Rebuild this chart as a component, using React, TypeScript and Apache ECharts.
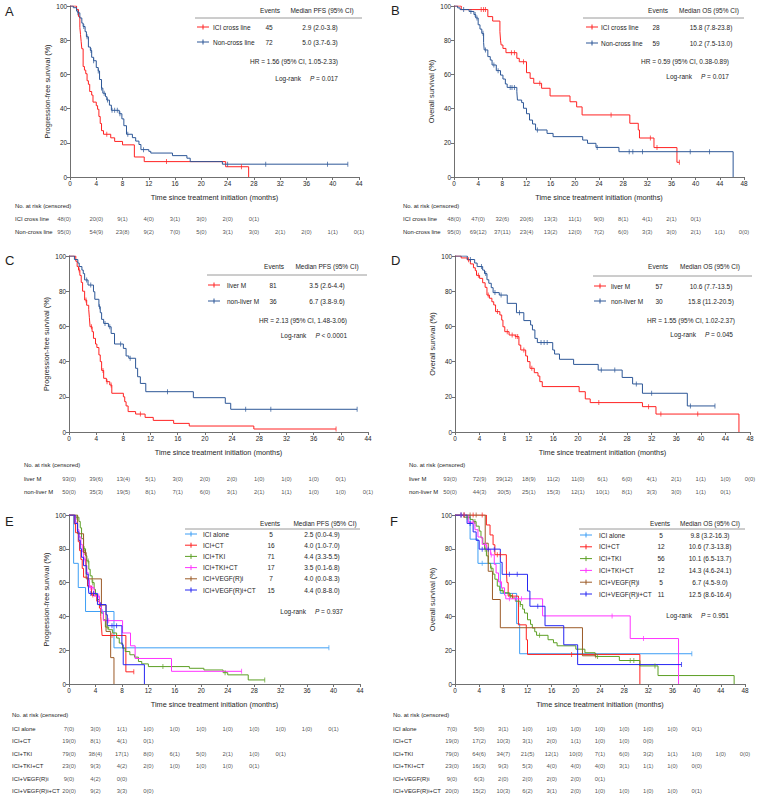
import React, { useEffect, useRef } from 'react';
import * as echarts from 'echarts';

const FONT = '"Liberation Sans", Arial, Helvetica, sans-serif';
const TXT = '#1e1e1e';
const AXIS = '#707070';

const RED = '#ff2222';
const BLUE = '#2d5797';
const GROUP_COLORS = ['#3d9ef5', '#ff2020', '#5c9f24', '#ff33ff', '#9b5a27', '#2626f2'];

const X_TITLE = 'Time since treatment initiation (months)';
const PFS_TITLE = 'Progression-free survival (%)';
const OS_TITLE = 'Overall survival (%)';

// ---------- Panel A ----------
const A_NAMES = ['ICI cross line', 'Non-cross line'];
const A_EVENTS = ['45', '72'];
const A_MEDIANS = ['2.9 (2.0-3.8)', '5.0 (3.7-6.3)'];
const A_HR = 'HR = 1.56 (95% CI, 1.05-2.33)';
const A_P = ' = 0.017';
const A_CROSS = [[1.0, 97.9], [1.3, 93.8], [1.5, 87.5], [1.6, 83.3], [1.7, 79.2], [1.8, 75.0], [2.0, 64.6], [2.2, 62.5], [2.4, 60.4], [2.6, 56.3], [2.8, 54.2], [3.0, 50.0], [3.3, 47.9], [3.5, 43.8], [4.0, 41.7], [4.2, 39.6], [4.4, 35.4], [4.6, 31.3], [4.8, 27.1], [5.1, 25.0], [6.2, 22.9], [6.8, 20.8], [8.0, 18.8], [9.8, 11.7], [11.3, 9.0], [23.7, 6.0], [27.2, 0]];
const A_CROSS_CENS = [5.6, 14.7, 26.1];
const A_NON = [[0.5, 99], [1.0, 97], [1.2, 96], [1.5, 93], [1.8, 90], [2.0, 88], [2.3, 85], [2.5, 82], [2.8, 76], [3.1, 74], [3.3, 70], [3.6, 68], [4.0, 64], [4.3, 62], [4.5, 57], [4.8, 52], [5.0, 49], [5.4, 47], [5.6, 45], [6.0, 42], [6.3, 39], [7.5, 37], [7.9, 34], [8.2, 30], [8.6, 25], [9.5, 23], [10.0, 21], [10.5, 19], [10.8, 16], [12.0, 15], [12.3, 14], [15.6, 12.5], [17.8, 11], [18.3, 9], [23.2, 7.5], [42.3, 7.5]];
const A_NON_CENS = [1.2, 2.1, 2.6, 3.2, 3.6, 4.3, 4.8, 5.2, 5.7, 6.4, 6.8, 7.2, 7.6, 8.8, 11.2, 24.0, 29.8, 39.2, 42.3];
const A_RISK_CROSS = ['48(0)', '20(0)', '9(1)', '4(0)', '3(1)', '3(0)', '2(0)', '0(1)'];
const A_RISK_NON = ['95(0)', '54(9)', '23(8)', '9(2)', '7(0)', '5(0)', '3(1)', '3(0)', '2(1)', '2(0)', '1(1)', '0(1)'];

// ---------- Panel B ----------
const B_NAMES = ['ICI cross line', 'Non-cross line'];
const B_EVENTS = ['28', '59'];
const B_MEDIANS = ['15.8 (7.8-23.8)', '10.2 (7.5-13.0)'];
const B_HR = 'HR = 0.59 (95% CI, 0.38-0.89)';
const B_P = ' = 0.017';
const B_CROSS = [[1.2, 97.9], [5.6, 93.8], [6.4, 91.2], [7.6, 85], [7.7, 80], [7.8, 77.2], [8.1, 75.2], [8.6, 72.7], [10.4, 69.4], [10.8, 67.4], [12.0, 61.0], [12.6, 57.7], [13.2, 54.8], [14.5, 51.9], [15.9, 47.4], [19.2, 44.0], [20.3, 41.0], [21.2, 36.3], [29.1, 31.4], [30.5, 27.5], [30.7, 22.8], [33.1, 17.2], [36.9, 8.6], [37.3, 8.6]];
const B_CROSS_CENS = [4.5, 4.9, 5.2, 9.5, 10.0, 11.5, 14.2, 26.0, 32.5, 33.6, 37.3];
const B_NON = [[0.6, 98.9], [1.0, 97.9], [2.5, 96.8], [3.3, 95], [3.6, 93], [4.0, 89], [4.3, 86.5], [4.6, 84], [4.9, 78.6], [5.0, 74.3], [5.6, 70.4], [6.0, 68.4], [6.3, 65.5], [7.0, 62.2], [7.7, 59.6], [8.1, 57.3], [8.5, 54.4], [8.8, 52.4], [10.4, 49.9], [10.5, 45], [11.2, 43.5], [11.5, 40.2], [12.0, 37], [12.5, 33.3], [13.0, 31], [13.5, 27.5], [15.4, 25.5], [16.4, 23.6], [21.3, 21.6], [22.1, 19.7], [23.5, 17.3], [27.3, 14.8], [46.2, 0]];
const B_NON_CENS = [1.6, 2.8, 3.5, 3.8, 4.8, 5.2, 6.6, 7.3, 9.3, 9.6, 10.0, 13.8, 23.7, 29.0, 29.6, 31.2, 39.1, 42.3];
const B_RISK_CROSS = ['48(0)', '47(0)', '32(6)', '20(6)', '13(3)', '11(1)', '9(0)', '8(1)', '4(1)', '2(1)', '0(1)'];
const B_RISK_NON = ['95(0)', '69(12)', '37(11)', '23(4)', '13(2)', '12(0)', '7(2)', '6(0)', '3(3)', '3(0)', '2(1)', '1(1)', '0(0)'];

// ---------- Panel C ----------
const C_NAMES = ['liver M', 'non-liver M'];
const C_EVENTS = ['81', '36'];
const C_MEDIANS = ['3.5 (2.6-4.4)', '6.7 (3.8-9.6)'];
const C_HR = 'HR = 2.13 (95% CI, 1.48-3.06)';
const C_P = ' < 0.0001';
const C_LIVER = [[1.0, 97], [1.2, 94], [1.4, 92], [1.6, 89], [1.8, 85], [2.0, 80], [2.3, 75], [2.6, 72], [2.9, 69.7], [3.0, 65], [3.1, 59.8], [3.4, 57], [3.6, 53.2], [3.9, 50], [4.1, 48], [4.4, 43.8], [4.6, 40], [4.8, 35], [5.1, 30.5], [5.5, 28.6], [6.0, 26.7], [6.3, 22], [8.0, 20], [8.2, 17.2], [8.4, 14.8], [8.7, 11.6], [9.8, 10.2], [11.2, 8.3], [12.4, 6.6], [15.4, 4.9], [17.7, 3.4], [27.2, 1.7], [39.3, 1.7]];
const C_LIVER_CENS = [1.5, 2.5, 3.3, 5.0, 5.6, 6.2, 10.5, 39.3];
const C_NONLIVER = [[0.8, 98], [1.3, 96], [1.5, 94], [1.9, 92], [2.1, 90], [2.3, 86.4], [2.8, 83.5], [3.6, 79.7], [3.8, 75.4], [4.4, 71.2], [4.6, 67.8], [4.8, 64], [5.1, 61.7], [5.8, 59.8], [6.2, 56], [6.7, 50], [8.0, 47.5], [8.4, 43.2], [8.8, 41.9], [9.8, 36.2], [10.1, 31.4], [10.5, 27.6], [11.3, 22.9], [18.3, 19.5], [23.0, 16.3], [23.8, 12.9], [42.4, 12.9]];
const C_NONLIVER_CENS = [2.6, 3.2, 4.5, 5.3, 6.0, 7.6, 9.0, 14.5, 26.0, 29.7, 42.4];
const C_RISK_LIVER = ['93(0)', '39(6)', '13(4)', '5(1)', '3(0)', '2(0)', '2(0)', '1(0)', '1(0)', '1(0)', '0(1)'];
const C_RISK_NONLIVER = ['50(0)', '35(3)', '19(5)', '8(1)', '7(1)', '6(0)', '3(1)', '2(1)', '1(1)', '1(0)', '1(0)', '0(1)'];

// ---------- Panel D ----------
const D_NAMES = ['liver M', 'non-liver M'];
const D_EVENTS = ['57', '30'];
const D_MEDIANS = ['10.6 (7.7-13.5)', '15.8 (11.2-20.5)'];
const D_HR = 'HR = 1.55 (95% CI, 1.02-2.37)';
const D_P = ' = 0.045';
const D_LIVER = [[1.0, 98.9], [2.0, 97.8], [2.5, 95.5], [3.0, 93.3], [3.3, 91.7], [3.5, 89], [4.0, 87.3], [4.5, 84.8], [4.9, 82.2], [5.2, 77.8], [5.6, 76], [6.0, 74], [6.3, 72.2], [6.6, 68.4], [7.3, 66.5], [7.6, 63.6], [7.8, 59.8], [8.1, 57], [8.8, 55.1], [9.8, 54.2], [10.4, 49.4], [10.7, 46.6], [11.5, 43.2], [11.8, 40], [12.2, 36.2], [12.9, 33.7], [13.5, 31.8], [13.8, 28.6], [14.2, 25.8], [20.2, 22.9], [21.2, 18.8], [22.0, 16.7], [30.5, 14.4], [32.7, 10.2], [46.2, 0]];
const D_LIVER_CENS = [2.2, 3.8, 5.4, 6.9, 8.5, 9.3, 9.9, 10.2, 11.2, 12.5, 23.4, 31.5, 33.5, 39.5];
const D_NONLIVER = [[2.0, 98], [3.2, 96], [3.6, 94], [4.5, 92], [4.8, 90], [5.2, 86.5], [5.5, 84.5], [5.9, 82], [6.2, 79.2], [7.2, 77.8], [8.5, 73.1], [10.0, 67.8], [11.2, 63.3], [12.3, 60.8], [12.6, 58], [13.0, 53.2], [13.4, 50.8], [15.9, 46.6], [16.2, 44.3], [17.0, 41.3], [19.3, 38.4], [23.3, 35.2], [27.2, 31], [28.9, 27.3], [30.5, 22], [37.8, 14.8], [42.3, 14.8]];
const D_NONLIVER_CENS = [2.5, 4.3, 5.0, 6.5, 7.5, 10.5, 14.0, 14.5, 15.0, 23.8, 26.0, 29.5, 32.0, 38.3, 42.3];
const D_RISK_LIVER = ['93(0)', '72(9)', '39(12)', '18(9)', '11(2)', '11(0)', '6(1)', '6(0)', '4(1)', '2(1)', '1(1)', '1(0)', '0(0)'];
const D_RISK_NONLIVER = ['50(0)', '44(3)', '30(5)', '25(1)', '15(3)', '12(1)', '10(1)', '8(1)', '3(3)', '3(0)', '1(1)', '0(1)'];

// ---------- Panels E / F ----------
const GROUP_NAMES = ['ICI alone', 'ICI+CT', 'ICI+TKI', 'ICI+TKI+CT', 'ICI+VEGF(R)i', 'ICI+VEGF(R)i+CT'];
const E_EVENTS = ['5', '16', '71', '17', '7', '15'];
const E_MEDIANS = ['2.5 (0.0-4.9)', '4.0 (1.0-7.0)', '4.4 (3.3-5.5)', '3.5 (0.1-6.8)', '4.0 (0.0-8.3)', '4.4 (0.8-8.0)'];
const E_P = ' = 0.937';
const E_ALONE = [[0.7, 71.4], [1.4, 57.1], [2.5, 42.9], [6.8, 21.4], [39.3, 21.4]];
const E_ALONE_CENS = [5.0, 39.3];
const E_CT = [[0.8, 94.7], [1.0, 89.5], [1.4, 84.2], [1.6, 78.9], [1.8, 73.7], [2.0, 68.4], [2.2, 63.2], [2.8, 57.9], [3.4, 52.6], [4.2, 49], [4.6, 44.9], [4.8, 40], [4.9, 34.3], [5.0, 28.7], [8.6, 7.2], [9.8, 7.2]];
const E_CT_CENS = [3.6, 6.5, 9.8];
const E_TKI = [[1.0, 98.7], [1.5, 96.2], [1.7, 92.4], [1.9, 86], [2.2, 80], [2.5, 75.9], [2.7, 72.8], [3.0, 67.9], [3.2, 64], [3.5, 60], [3.8, 56], [4.0, 53], [4.3, 50], [4.6, 46.5], [4.9, 42], [5.2, 38], [5.5, 33.7], [6.0, 32.1], [6.6, 30.2], [7.2, 27.2], [7.6, 24.2], [8.1, 21.2], [8.5, 19.2], [9.2, 17.3], [9.9, 15.9], [10.5, 13.3], [11.0, 11.9], [12.0, 10.3], [18.2, 9.3], [20.4, 8.3], [23.3, 6.7], [24.0, 5.4], [27.1, 2.4], [29.6, 2.4]];
const E_TKI_CENS = [1.2, 2.3, 2.9, 3.6, 5.8, 14.2, 23.6, 29.6];
const E_TKICT = [[1.0, 95.7], [1.3, 91.3], [1.5, 87], [1.8, 82.6], [2.0, 78.3], [2.2, 73.9], [2.5, 70.2], [2.7, 65.9], [2.9, 61.5], [3.1, 57], [3.8, 52], [4.6, 47.6], [4.9, 43], [5.2, 37.5], [8.1, 30.2], [9.3, 22.6], [10.0, 15.1], [15.5, 7.5], [26.1, 7.5]];
const E_TKICT_CENS = [2.4, 3.3, 3.5, 4.5, 6.0, 26.1];
const E_VEGF = [[1.3, 88.9], [2.2, 77.8], [2.6, 62.2], [4.9, 46.7], [5.6, 31.1], [6.3, 15.6], [6.8, 0]];
const E_VEGF_CENS = [2.4, 2.5];
const E_VEGFCT = [[0.9, 95], [1.3, 90], [1.5, 85], [1.7, 80], [1.9, 75], [2.2, 70], [2.6, 65], [2.9, 59], [3.0, 53.6], [4.3, 47], [5.6, 41], [5.8, 34.5], [8.0, 23.2], [8.2, 11.4], [11.4, 0]];
const E_VEGFCT_CENS = [3.3, 3.7, 4.8, 6.5, 7.2];
const E_RISK = [
  ['7(0)', '3(0)', '1(1)', '1(0)', '1(0)', '1(0)', '1(0)', '1(0)', '1(0)', '1(0)', '0(1)'],
  ['19(0)', '8(1)', '4(1)', '0(1)'],
  ['79(0)', '38(4)', '17(1)', '8(0)', '6(1)', '5(0)', '2(1)', '1(0)', '0(1)'],
  ['23(0)', '9(3)', '4(2)', '2(0)', '1(0)', '1(0)', '1(0)', '0(1)'],
  ['9(0)', '4(2)', '0(0)'],
  ['20(0)', '9(2)', '3(3)', '0(0)'],
];

const F_EVENTS = ['5', '12', '56', '12', '5', '11'];
const F_MEDIANS = ['9.8 (3.2-16.3)', '10.6 (7.3-13.8)', '10.1 (6.5-13.7)', '14.3 (4.6-24.1)', '6.7 (4.5-9.0)', '12.5 (8.6-16.4)'];
const F_P = ' = 0.951';
const F_ALONE = [[2.5, 85.7], [3.8, 71.4], [7.5, 53.6], [10.2, 35.7], [10.7, 17.9], [39.2, 17.9]];
const F_ALONE_CENS = [4.5, 39.2];
const F_CT = [[5.2, 94.1], [5.8, 88.2], [6.3, 82.4], [6.6, 76.5], [8.5, 68], [8.6, 60], [8.8, 52], [10.5, 35], [11.8, 26.2], [12.0, 17.5], [30.6, 0]];
const F_CT_CENS = [1.5, 3.0, 4.5, 7.0, 7.5, 9.5, 19.3];
const F_TKI = [[1.5, 98.7], [2.5, 97.4], [3.0, 96.1], [3.5, 93.4], [4.0, 90.5], [4.3, 86.5], [4.6, 83.2], [4.9, 79.8], [5.2, 75.8], [5.5, 71.4], [5.9, 68.5], [6.3, 65], [6.6, 62], [7.0, 57.9], [7.4, 55.3], [8.0, 54], [9.0, 52.4], [9.5, 50.9], [10.0, 49], [10.8, 47], [11.2, 44.3], [11.5, 42], [12.0, 38], [12.5, 35.3], [12.8, 33.1], [13.2, 30.9], [13.5, 28.8], [15.4, 26.2], [16.3, 24.4], [16.9, 22.6], [20.0, 20.6], [21.5, 18.5], [23.2, 16.3], [27.2, 13.9], [30.6, 10.7], [33.6, 5.0], [46.2, 0]];
const F_TKI_CENS = [1.0, 2.0, 3.3, 5.0, 6.0, 7.8, 9.2, 10.8, 14.0, 23.6, 29.0, 29.6, 33.1];
const F_TKICT = [[2.2, 95.7], [3.3, 91.3], [3.8, 87], [4.5, 82.6], [5.2, 79.5], [5.9, 76.4], [6.5, 70.8], [6.8, 65.7], [7.2, 60.5], [7.7, 56.9], [8.2, 52.6], [8.4, 50.4], [14.5, 40.3], [29.0, 26.9], [37.0, 0]];
const F_TKICT_CENS = [1.0, 1.5, 3.0, 5.0, 6.0, 7.5, 9.0, 10.0, 11.0, 26.0, 31.2];
const F_VEGF = [[5.0, 83.3], [5.5, 66.7], [6.2, 50], [7.5, 33.3], [21.1, 16.7], [23.3, 16.7]];
const F_VEGF_CENS = [1.5, 2.5, 3.5, 23.3];
const F_VEGFCT = [[2.0, 95], [3.0, 90], [3.5, 85], [4.0, 79.8], [7.5, 72], [7.8, 64.9], [12.0, 55], [12.4, 46], [14.9, 34.5], [18.0, 23.2], [20.3, 11.5], [37.5, 11.5]];
const F_VEGFCT_CENS = [1.0, 2.5, 4.5, 5.5, 6.5, 9.0, 10.3, 13.7, 37.5];
const F_RISK = [
  ['7(0)', '5(0)', '3(1)', '1(0)', '1(0)', '1(0)', '1(0)', '1(0)', '1(0)', '1(0)', '0(1)'],
  ['19(0)', '17(2)', '10(3)', '3(1)', '2(0)', '1(1)', '1(0)', '1(0)', '0(0)'],
  ['79(0)', '64(6)', '34(7)', '21(5)', '12(1)', '10(0)', '7(1)', '6(0)', '3(2)', '1(1)', '1(0)', '1(0)', '0(0)'],
  ['23(0)', '16(3)', '9(3)', '5(3)', '4(0)', '4(0)', '4(0)', '3(1)', '1(1)', '1(0)', '0(0)'],
  ['9(0)', '6(3)', '2(0)', '2(0)', '2(0)', '2(0)', '0(1)'],
  ['20(0)', '15(2)', '10(3)', '6(2)', '3(1)', '2(0)', '1(0)', '1(0)', '1(0)', '1(0)', '0(1)'],
];

// ---------- assembly ----------
const PANELS = [
  { letter: 'A', yName: PFS_TITLE, medHead: 'Median PFS (95% CI)', names: A_NAMES, events: A_EVENTS, medians: A_MEDIANS, hr: A_HR, p: A_P, xMax: 44,
    curves: [{ pts: A_CROSS, cens: A_CROSS_CENS, color: RED }, { pts: A_NON, cens: A_NON_CENS, color: BLUE }], risk: [A_RISK_CROSS, A_RISK_NON] },
  { letter: 'B', yName: OS_TITLE, medHead: 'Median OS (95% CI)', names: B_NAMES, events: B_EVENTS, medians: B_MEDIANS, hr: B_HR, p: B_P, xMax: 48,
    curves: [{ pts: B_CROSS, cens: B_CROSS_CENS, color: RED }, { pts: B_NON, cens: B_NON_CENS, color: BLUE }], risk: [B_RISK_CROSS, B_RISK_NON] },
  { letter: 'C', yName: PFS_TITLE, medHead: 'Median PFS (95% CI)', names: C_NAMES, events: C_EVENTS, medians: C_MEDIANS, hr: C_HR, p: C_P, xMax: 44,
    curves: [{ pts: C_LIVER, cens: C_LIVER_CENS, color: RED }, { pts: C_NONLIVER, cens: C_NONLIVER_CENS, color: BLUE }], risk: [C_RISK_LIVER, C_RISK_NONLIVER] },
  { letter: 'D', yName: OS_TITLE, medHead: 'Median OS (95% CI)', names: D_NAMES, events: D_EVENTS, medians: D_MEDIANS, hr: D_HR, p: D_P, xMax: 48,
    curves: [{ pts: D_LIVER, cens: D_LIVER_CENS, color: RED }, { pts: D_NONLIVER, cens: D_NONLIVER_CENS, color: BLUE }], risk: [D_RISK_LIVER, D_RISK_NONLIVER] },
  { letter: 'E', yName: PFS_TITLE, medHead: 'Median PFS (95% CI)', names: GROUP_NAMES, events: E_EVENTS, medians: E_MEDIANS, hr: null, p: E_P, xMax: 44,
    curves: [
      { pts: E_ALONE, cens: E_ALONE_CENS, color: GROUP_COLORS[0] }, { pts: E_CT, cens: E_CT_CENS, color: GROUP_COLORS[1] },
      { pts: E_TKI, cens: E_TKI_CENS, color: GROUP_COLORS[2] }, { pts: E_TKICT, cens: E_TKICT_CENS, color: GROUP_COLORS[3] },
      { pts: E_VEGF, cens: E_VEGF_CENS, color: GROUP_COLORS[4] }, { pts: E_VEGFCT, cens: E_VEGFCT_CENS, color: GROUP_COLORS[5] }],
    risk: E_RISK },
  { letter: 'F', yName: OS_TITLE, medHead: 'Median OS (95% CI)', names: GROUP_NAMES, events: F_EVENTS, medians: F_MEDIANS, hr: null, p: F_P, xMax: 48,
    curves: [
      { pts: F_ALONE, cens: F_ALONE_CENS, color: GROUP_COLORS[0] }, { pts: F_CT, cens: F_CT_CENS, color: GROUP_COLORS[1] },
      { pts: F_TKI, cens: F_TKI_CENS, color: GROUP_COLORS[2] }, { pts: F_TKICT, cens: F_TKICT_CENS, color: GROUP_COLORS[3] },
      { pts: F_VEGF, cens: F_VEGF_CENS, color: GROUP_COLORS[4] }, { pts: F_VEGFCT, cens: F_VEGFCT_CENS, color: GROUP_COLORS[5] }],
    risk: F_RISK },
];

// Layout (pixel positions), kept apart from the data
const LAYOUT = [
  { grid: { left: 70, top: 6, width: 289, height: 171 }, letter: [5, 11],
    risk: { labelX: 15, headY: 206, rowY0: 219, rowGap: 13, firstOff: -6 },
    leg: { headY: 10, ruleY: 18, ruleX0: 195, ruleX1: 362, rowY0: 27, rowGap: 15, sampleX: 197, nameX: 213, evX: 269, medX: 320, evHeadX: 270, medHeadX: 322, hrX: 338, hrY: 61, lrX: 338, lrY: 78 } },
  { grid: { left: 454, top: 6, width: 290, height: 171 }, letter: [391, 10],
    risk: { labelX: 403, headY: 206, rowY0: 219, rowGap: 13, firstOff: 0 },
    leg: { headY: 10, ruleY: 18, ruleX0: 583, ruleX1: 744, rowY0: 27, rowGap: 16, sampleX: 586, nameX: 601, evX: 656, medX: 711, evHeadX: 658, medHeadX: 709, hrX: 729, hrY: 61, lrX: 729, lrY: 76 } },
  { grid: { left: 69, top: 256, width: 299, height: 176 }, letter: [5, 260],
    risk: { labelX: 24, headY: 465, rowY0: 479, rowGap: 13, firstOff: 0 },
    leg: { headY: 266, ruleY: 275, ruleX0: 207, ruleX1: 367, rowY0: 285, rowGap: 16, sampleX: 208, nameX: 227, evX: 273, medX: 327, evHeadX: 274, medHeadX: 327, hrX: 347, hrY: 320, lrX: 347, lrY: 335 } },
  { grid: { left: 455, top: 256, width: 295, height: 176 }, letter: [391, 260],
    risk: { labelX: 409, headY: 465, rowY0: 479, rowGap: 13, firstOff: -5 },
    leg: { headY: 266, ruleY: 276, ruleX0: 593, ruleX1: 752, rowY0: 286, rowGap: 15, sampleX: 594, nameX: 611, evX: 659, medX: 711, evHeadX: 658, medHeadX: 710, hrX: 735, hrY: 320, lrX: 733, lrY: 334 } },
  { grid: { left: 69, top: 515, width: 291, height: 169 }, letter: [5, 521],
    risk: { labelX: 12, headY: 715, rowY0: 729, rowGap: 12.4, firstOff: 0 },
    leg: { headY: 523, ruleY: 529, ruleX0: 185, ruleX1: 360, rowY0: 534, rowGap: 11.2, sampleX: 185, nameX: 203, evX: 271, medX: 322, evHeadX: 270, medHeadX: 325, hrX: 0, hrY: 0, lrX: 343, lrY: 611 } },
  { grid: { left: 455, top: 515, width: 290, height: 169 }, letter: [390, 521],
    risk: { labelX: 393, headY: 715, rowY0: 729, rowGap: 12.4, firstOff: -3 },
    leg: { headY: 523, ruleY: 529, ruleX0: 579, ruleX1: 745, rowY0: 535, rowGap: 11.8, sampleX: 580, nameX: 599, evX: 661, medX: 710, evHeadX: 660, medHeadX: 710, hrX: 0, hrY: 0, lrX: 729, lrY: 615 } },
];

function survAt(pts: number[][], t: number) {
  let s = 100;
  for (const [ti, si] of pts) {
    if (ti <= t) s = si;
    else break;
  }
  return s;
}

function txt(text: string, x: number, y: number, size: number, align = 'left', extra: any = {}) {
  return {
    type: 'text', x, y, silent: true, z: 10,
    style: {
      text, fontSize: size, fontFamily: FONT, fill: TXT,
      textAlign: align, align, textVerticalAlign: 'middle', verticalAlign: 'middle', ...extra,
    },
  };
}

function buildOption() {
  const grid: any[] = [];
  const xAxis: any[] = [];
  const yAxis: any[] = [];
  const series: any[] = [];
  const graphic: any[] = [];
  const LEG = 6.5;
  const TAB = 5.9;

  PANELS.forEach((p, pi) => {
    const L = LAYOUT[pi];
    const gi = grid.length;
    grid.push({ ...L.grid, containLabel: false, outerBoundsMode: 'none' });
    xAxis.push({
      gridIndex: gi, type: 'value', min: 0, max: p.xMax, interval: 4,
      axisLine: { show: true, onZero: false, lineStyle: { color: AXIS, width: 1 } },
      axisTick: { show: true, length: 3, lineStyle: { color: AXIS } },
      axisLabel: { fontSize: 6.4, color: TXT, margin: 3, fontFamily: FONT, showMinLabel: true, showMaxLabel: true },
      splitLine: { show: false },
      name: X_TITLE, nameLocation: 'middle', nameGap: 17,
      nameTextStyle: { fontSize: 7.3, color: TXT, fontFamily: FONT },
    });
    yAxis.push({
      gridIndex: gi, type: 'value', min: 0, max: 100, interval: 20,
      axisLine: { show: true, lineStyle: { color: AXIS, width: 1 } },
      axisTick: { show: true, length: 3, lineStyle: { color: AXIS } },
      axisLabel: { fontSize: 6.4, color: TXT, margin: 3, fontFamily: FONT },
      splitLine: { show: false },
      name: p.yName, nameLocation: 'middle', nameGap: 19, nameRotate: 90,
      nameTextStyle: { fontSize: 7.3, color: TXT, fontFamily: FONT },
    });
    p.curves.forEach((c) => {
      series.push({
        type: 'line', xAxisIndex: gi, yAxisIndex: gi, step: 'end', symbol: 'none', silent: true, z: 2,
        data: [[0, 100], ...c.pts],
        lineStyle: { color: c.color, width: 1 }, itemStyle: { color: c.color },
      });
      series.push({
        type: 'scatter', xAxisIndex: gi, yAxisIndex: gi, symbol: 'rect', symbolSize: [0.9, 5], silent: true, z: 3, clip: false,
        data: c.cens.map((t) => [t, survAt(c.pts, t)]),
        itemStyle: { color: c.color },
      });
    });

    // risk table grid
    const rg = grid.length;
    const nRows = p.risk.length;
    grid.push({ left: L.grid.left, top: L.risk.rowY0, width: L.grid.width, height: (nRows - 1) * L.risk.rowGap, containLabel: false, outerBoundsMode: 'none' });
    xAxis.push({ gridIndex: rg, type: 'value', min: 0, max: p.xMax, show: false });
    yAxis.push({ gridIndex: rg, type: 'value', min: 0, max: nRows - 1, inverse: true, show: false });
    p.risk.forEach((row, ri) => {
      series.push({
        type: 'scatter', xAxisIndex: rg, yAxisIndex: rg, symbol: 'circle', symbolSize: 1, silent: true, clip: false,
        itemStyle: { color: 'rgba(0,0,0,0)' },
        label: { show: true, position: 'inside', formatter: '{b}', fontSize: TAB, fontFamily: FONT, color: TXT },
        data: row.map((v, ci) => ({
          name: v, value: [ci * 4, ri],
          label: ci === 0 && L.risk.firstOff ? { offset: [L.risk.firstOff, 0] } : undefined,
        })),
      });
      graphic.push(txt(p.names[ri], L.risk.labelX, L.risk.rowY0 + ri * L.risk.rowGap, TAB));
    });
    graphic.push(txt('No. at risk (censored)', L.risk.labelX, L.risk.headY, TAB));

    // panel letter
    graphic.push(txt(p.letter, L.letter[0], L.letter[1], 13));

    // legend block
    const g = L.leg;
    graphic.push(txt('Events', g.evHeadX, g.headY, LEG, 'center'));
    graphic.push(txt(p.medHead, g.medHeadX, g.headY, LEG, 'center'));
    graphic.push({ type: 'line', silent: true, shape: { x1: g.ruleX0, y1: g.ruleY, x2: g.ruleX1, y2: g.ruleY }, style: { stroke: '#9a9a9a', lineWidth: 1 } });
    p.names.forEach((nm, i) => {
      const y = g.rowY0 + i * g.rowGap;
      const col = p.curves[i].color;
      graphic.push({ type: 'line', silent: true, shape: { x1: g.sampleX, y1: y, x2: g.sampleX + 12, y2: y }, style: { stroke: col, lineWidth: 1 } });
      graphic.push({ type: 'line', silent: true, shape: { x1: g.sampleX + 6, y1: y - 2.5, x2: g.sampleX + 6, y2: y + 2.5 }, style: { stroke: col, lineWidth: 1 } });
      graphic.push(txt(nm, g.nameX, y, LEG));
      graphic.push(txt(p.events[i], g.evX, y, LEG, 'center'));
      graphic.push(txt(p.medians[i], g.medX, y, LEG, 'center'));
    });
    if (p.hr) graphic.push(txt(p.hr, g.hrX, g.hrY, LEG, 'right'));
    graphic.push(txt('Log-rank     {i|P}' + p.p, g.lrX, g.lrY, LEG, 'right', {
      rich: { i: { fontStyle: 'italic', fontSize: LEG, fontFamily: FONT, fill: TXT } },
    }));
  });

  return {
    animation: false,
    backgroundColor: '#ffffff',
    textStyle: { fontFamily: FONT },
    grid, xAxis, yAxis, series, graphic,
  };
}

export default function App() {
  const ref = useRef<HTMLDivElement>(null);
  useEffect(() => {
    if (!ref.current) return;
    const chart = echarts.init(ref.current, null, { renderer: 'svg' });
    chart.setOption(buildOption() as any);
    return () => chart.dispose();
  }, []);
  return <div ref={ref} style={{ position: 'absolute', left: 0, top: 0, width: 762, height: 799, background: '#fff' }} />;
}
